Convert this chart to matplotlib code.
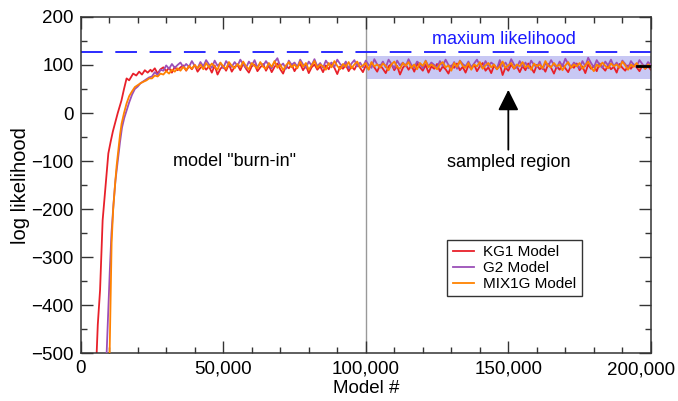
import numpy as np
import matplotlib
matplotlib.use("Agg")
import matplotlib.pyplot as plt
from matplotlib.ticker import MultipleLocator, FuncFormatter

plt.rcParams['font.family'] = ['Liberation Sans', 'DejaVu Sans']

# burn-in part
kg1_burn_x = [5600, 6000, 6800, 7700, 8800, 9700, 10500, 11300, 12000, 13000, 14300,
              15200, 16100, 17000, 18400, 19500, 20500, 21500, 22500, 23500, 24500]
kg1_burn_y = [-500, -440, -368, -223, -146, -84, -60, -38, -22, 0, 26,
              50, 72, 68, 82, 78, 86, 80, 89, 84, 90]
g2_burn_x = [9100, 9600, 10200, 10800, 11500, 12200, 13000, 13800, 14500, 15300,
             16100, 17000, 18000, 19000, 20000, 21000, 22000, 23000, 24000]
g2_burn_y = [-500, -420, -330, -250, -190, -140, -100, -60, -30, -10,
             5, 22, 38, 50, 55, 62, 66, 70, 74]
mix_burn_x = [10150, 10850, 11400, 12000, 12600, 13200, 13800, 14350, 15200, 16100,
              17000, 18000, 19000, 20000, 21000, 22000, 23100, 24000]
mix_burn_y = [-500, -270, -200, -153, -110, -78, -45, -22, 0, 20,
              35, 45, 54, 58, 62, 65, 68, 72]

# steady part, one reading per 1000 models from 25,000 to 200,000
steady_x = np.arange(25000, 200001, 1000)
kg1_steady = [86, 93, 82, 91, 95, 87, 94, 84, 96, 89,
              95, 99, 88, 97, 91, 100, 86, 94, 98, 90,
              97, 84, 99, 80, 92, 98, 88, 101, 86, 96,
              100, 89, 103, 92, 84, 97, 101, 87, 95, 102,
              88, 99, 85, 96, 103, 91, 82, 98, 93, 101,
              87, 97, 102, 89, 99, 83, 95, 101, 90, 97,
              85, 99, 91, 103, 94, 81, 97, 92, 100, 87,
              97, 90, 102, 94, 85, 99, 91, 104, 95, 86,
              100, 92, 83, 97, 102, 89, 98, 80, 94, 101,
              90, 99, 86, 103, 95, 88, 100, 84, 97, 92,
              102, 87, 97, 91, 82, 99, 94, 103, 89, 96,
              84, 99, 92, 101, 87, 97, 104, 88, 95, 83,
              99, 91, 102, 79, 95, 88, 101, 92, 97, 85,
              98, 89, 103, 94, 84, 100, 91, 96, 86, 102,
              94, 82, 97, 90, 101, 93, 85, 99, 94, 103,
              89, 97, 83, 101, 92, 98, 87, 103, 95, 88,
              100, 91, 96, 84, 102, 94, 88, 99, 92, 101,
              95, 87, 99, 92, 97, 90]
g2_steady = [76, 85, 79, 90, 88, 99, 92, 102, 94, 100,
             105, 95, 102, 96, 108, 98, 93, 106, 97, 110,
             101, 94, 109, 98, 104, 93, 108, 100, 96, 106,
             98, 111, 101, 94, 107, 99, 110, 95, 104, 98,
             108, 99, 93, 106, 114, 97, 103, 92, 109, 100,
             105, 96, 111, 101, 94, 107, 99, 112, 97, 104,
             94, 109, 100, 105, 96, 111, 102, 97, 107, 93,
             103, 110, 97, 105, 95, 109, 100, 94, 112, 101,
             97, 107, 95, 111, 102, 93, 109, 99, 105, 97,
             112, 100, 95, 107, 102, 93, 109, 97, 105, 100,
             94, 108, 98, 111, 100, 95, 106, 92, 109, 102,
             97, 107, 95, 103, 111, 99, 94, 108, 97, 105,
             100, 92, 110, 97, 105, 95, 112, 101, 94, 108,
             97, 105, 93, 109, 100, 95, 107, 91, 103, 98,
             110, 100, 94, 107, 97, 113, 102, 95, 105, 100,
             93, 108, 97, 115, 104, 95, 110, 100, 94, 107,
             99, 111, 97, 105, 95, 109, 102, 93, 108, 100,
             97, 110, 102, 95, 106, 100]
mix_steady = [72, 78, 76, 82, 80, 87, 82, 90, 86, 93,
              88, 96, 89, 98, 92, 100, 93, 101, 91, 104,
              95, 103, 96, 90, 105, 97, 92, 106, 98, 93,
              102, 95, 107, 97, 91, 104, 98, 93, 106, 96,
              92, 104, 96, 108, 94, 101, 89, 99, 106, 95,
              101, 93, 107, 96, 104, 90, 99, 108, 94, 101,
              97, 90, 104, 95, 108, 98, 91, 102, 96, 106,
              93, 101, 107, 95, 99, 104, 90, 106, 97, 101,
              94, 103, 98, 89, 101, 107, 96, 92, 104, 98,
              106, 94, 101, 91, 104, 98, 108, 95, 101, 97,
              91, 101, 106, 95, 99, 88, 104, 96, 108, 98,
              94, 104, 90, 101, 97, 106, 92, 99, 104, 95,
              101, 91, 97, 107, 94, 99, 104, 93, 101, 97,
              106, 95, 99, 90, 103, 97, 101, 93, 108, 98,
              95, 104, 97, 101, 89, 99, 106, 94, 101, 97,
              104, 92, 99, 107, 95, 87, 101, 96, 105, 98,
              93, 103, 97, 101, 94, 107, 99, 90, 101, 96,
              104, 94, 99, 92, 101, 97]

max_likelihood = 127
sampled_start, sampled_end = 100000, 200000
band_low, band_high = 70, 119
mean_x = [195200, 200000]
mean_y = [98, 98]

fig = plt.figure(figsize=(6.78, 4.01), dpi=100)
ax = fig.add_axes([0.119, 0.1185, 0.841, 0.8395])

ax.fill_between([sampled_start, sampled_end], band_low, band_high,
                color='#c8c8f4', lw=0, zorder=0)
ax.axvline(100000, color='#999999', lw=1, zorder=1)
ax.axhline(max_likelihood, color='#1a1aff', lw=1.3, dashes=(12, 7), zorder=1)

ax.plot(list(kg1_burn_x) + list(steady_x), kg1_burn_y + kg1_steady,
        color='#e8202a', lw=1.3, label='KG1 Model', zorder=2)
ax.plot(list(g2_burn_x) + list(steady_x), g2_burn_y + g2_steady,
        color='#9b4fb8', lw=1.3, label='G2 Model', zorder=3)
ax.plot(list(mix_burn_x) + list(steady_x), mix_burn_y + mix_steady,
        color='#ff8200', lw=1.3, label='MIX1G Model', zorder=4)
ax.plot(mean_x, mean_y, color='black', lw=2, zorder=5)

ax.set_xlim(0, 200000)
ax.set_ylim(-500, 200)
ax.xaxis.set_major_locator(MultipleLocator(50000))
ax.xaxis.set_minor_locator(MultipleLocator(10000))
ax.yaxis.set_major_locator(MultipleLocator(100))
ax.yaxis.set_minor_locator(MultipleLocator(50))
# the 200,000 label is drawn separately, nudged left like in the reference
ax.xaxis.set_major_formatter(
    FuncFormatter(lambda v, p: '' if v >= 200000 else f'{int(v):,}'))
ax.tick_params(which='both', direction='in', top=True, right=True,
               labelsize=13.5, color='#333333')
ax.tick_params(which='major', length=8.5, width=1, pad=5)
ax.tick_params(which='minor', length=4.3, width=1)
for s in ax.spines.values():
    s.set_linewidth(1.1)
    s.set_color('#333333')
ax.annotate('200,000', xy=(1, 0), xycoords='axes fraction',
            xytext=(-10, -8.5), textcoords='offset pixels',
            ha='center', va='top', fontsize=13.5)

ax.set_xlabel('Model #', fontsize=13.5, labelpad=2)
ax.set_ylabel('log likelihood', fontsize=14.5, labelpad=1)

ax.text(54000, -100, 'model "burn-in"', fontsize=13, ha='center', va='center')
ax.text(148500, 152, 'maxium likelihood', fontsize=13, ha='center',
        va='center', color='#1a1aff')
ax.text(150000, -102, 'sampled region', fontsize=13, ha='center', va='center')
ax.annotate('', xy=(150000, 54), xytext=(150000, -82),
            arrowprops=dict(arrowstyle='-|>,head_length=0.9,head_width=0.45',
                            color='black', lw=1.3, mutation_scale=14))

leg = ax.legend(loc='upper left', bbox_to_anchor=(0.643, 0.337), fontsize=11,
                frameon=True, fancybox=False, edgecolor='black',
                handlelength=1.4, handletextpad=0.6, borderpad=0.35,
                labelspacing=0.12, borderaxespad=0)
leg.get_frame().set_linewidth(1)

fig.savefig('out.png', dpi=100)
